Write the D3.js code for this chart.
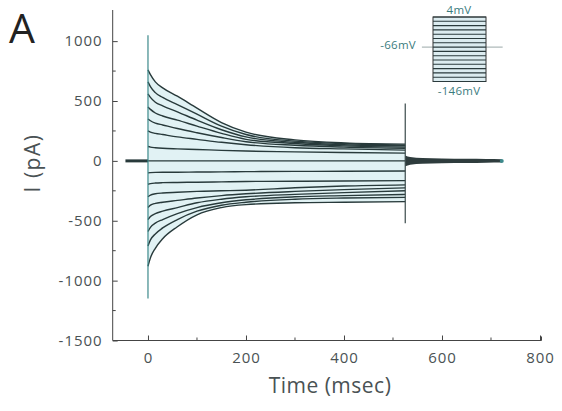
<!DOCTYPE html>
<html>
<head>
<meta charset="utf-8">
<script src="https://cdn.jsdelivr.net/npm/d3@7"></script>
<style>
  body { margin: 0; background: #fff; }
  svg { font-family: "Open Sans", sans-serif; }
</style>
</head>
<body>
<div id="chart"></div>
<script>
// Voltage steps (mV), holding at -66 mV
const stepVoltages = [4, -6, -16, -26, -36, -46, -56, -66, -76, -86, -96, -106, -116, -126, -136, -146];
const holdingVoltage = -66;

// Sample times (msec) during the pulse
const sampleTimes = [0, 5, 15, 30, 60, 100, 150, 200, 300, 400, 525];

// Current (pA) at each sample time, one row per voltage step
const currents = [
  [760, 720, 660, 610, 540, 440, 320, 240, 175, 150, 140],
  [660, 620, 570, 530, 470, 390, 290, 220, 165, 145, 130],
  [560, 530, 490, 460, 410, 340, 260, 200, 155, 135, 125],
  [450, 430, 400, 375, 340, 290, 230, 180, 145, 125, 115],
  [350, 335, 315, 300, 270, 235, 195, 160, 130, 115, 105],
  [250, 240, 230, 220, 200, 180, 155, 135, 110, 100, 90],
  [120, 115, 110, 105, 100, 95, 88, 82, 75, 70, 65],
  [0, 0, 0, 0, 0, 0, 0, 0, 0, 0, 0],
  [-100, -98, -96, -95, -95, -93, -92, -90, -88, -86, -85],
  [-195, -190, -185, -182, -180, -178, -175, -172, -170, -168, -165],
  [-300, -285, -275, -268, -262, -255, -250, -245, -225, -210, -200],
  [-390, -370, -355, -345, -330, -310, -290, -275, -255, -240, -225],
  [-490, -465, -440, -420, -390, -350, -320, -300, -280, -265, -250],
  [-590, -555, -520, -490, -440, -390, -350, -325, -300, -290, -280],
  [-710, -660, -610, -560, -490, -420, -370, -345, -320, -310, -305],
  [-880, -810, -730, -650, -550, -450, -390, -365, -350, -345, -340]
];

// Capacitive transients (time, peak, trough) in pA
const transientTimes = [0, 525];
const transientHigh = [1050, 480];
const transientLow = [-1150, -520];

// Holding current before the pulse and tail after it
const holdTimes = [-46, 0];
const tailTimes = [525, 535, 560, 600, 650, 690, 722];
const tailSpread = [45, 32, 24, 20, 18, 16, 14];

// Axis ticks
const xTicks = [0, 200, 400, 600, 800];
const xMinor = [100, 300, 500, 700];
const yTicks = [-1500, -1000, -500, 0, 500, 1000];
const yMinor = [-1250, -750, -250, 250, 750];

const W = 562, H = 411;
const svg = d3.select("#chart").append("svg")
  .attr("width", W).attr("height", H);

const x = d3.scaleLinear().domain([-72, 800]).range([112.7, 540]);
const y = d3.scaleLinear().domain([-1500, 1260]).range([340.5, 10]);

const traceColor = "#283a3b";
const teal = "#3d8a8c";

// Light shading between the traces
const topTrace = currents[0], bottomTrace = currents[currents.length - 1];
svg.append("path")
  .datum(sampleTimes.map((t, i) => ({ t, hi: topTrace[i], lo: bottomTrace[i] })))
  .attr("fill", "#e1f2f4")
  .attr("d", d3.area().curve(d3.curveMonotoneX)
    .x(d => x(d.t)).y0(d => y(d.lo)).y1(d => y(d.hi)));

// Holding baseline
svg.append("line")
  .attr("x1", x(holdTimes[0])).attr("x2", x(holdTimes[1]))
  .attr("y1", y(0)).attr("y2", y(0))
  .attr("stroke", traceColor).attr("stroke-width", 3);

// Tail after the pulse
svg.append("path")
  .datum(tailTimes.map((t, i) => ({ t, s: tailSpread[i] })))
  .attr("fill", "#2e3c3d")
  .attr("d", d3.area().curve(d3.curveMonotoneX)
    .x(d => x(d.t)).y0(d => y(-d.s)).y1(d => y(d.s)));
svg.append("circle")
  .attr("cx", x(tailTimes[tailTimes.length - 1])).attr("cy", y(0))
  .attr("r", 2).attr("fill", teal);

// Current traces
const line = d3.line().curve(d3.curveMonotoneX)
  .x((d, i) => x(sampleTimes[i])).y(d => y(d));
svg.append("g").selectAll("path")
  .data(currents)
  .join("path")
  .attr("fill", "none")
  .attr("stroke", traceColor)
  .attr("stroke-width", 1.4)
  .attr("d", d => line(d));

// Transients
svg.append("g").selectAll("line")
  .data(transientTimes)
  .join("line")
  .attr("x1", d => x(d)).attr("x2", d => x(d))
  .attr("y1", (d, i) => y(transientHigh[i]))
  .attr("y2", (d, i) => y(transientLow[i]))
  .attr("stroke", (d, i) => i === 0 ? teal : "#3a4a4b")
  .attr("stroke-width", 1.2);

// Axes
const axisColor = "#444";
const labelColor = "#4a5254";

const xAxis = svg.append("g")
  .attr("transform", `translate(0,${y(-1500)})`)
  .call(d3.axisBottom(x).tickValues(xTicks).tickSize(-5).tickPadding(12)
    .tickFormat(d => String(d)));
xAxis.append("g").selectAll("line")
  .data(xMinor).join("line")
  .attr("x1", d => x(d)).attr("x2", d => x(d))
  .attr("y1", 0).attr("y2", -3).attr("stroke", axisColor);

const yAxis = svg.append("g")
  .attr("transform", `translate(${x(-72)},0)`)
  .call(d3.axisLeft(y).tickValues(yTicks).tickSize(-5).tickPadding(10)
    .tickFormat(d => String(d)));
yAxis.append("g").selectAll("line")
  .data(yMinor).join("line")
  .attr("y1", d => y(d)).attr("y2", d => y(d))
  .attr("x1", 0).attr("x2", 3).attr("stroke", axisColor);

[xAxis, yAxis].forEach(a => {
  a.select(".domain").remove();
  a.selectAll(".tick line").attr("stroke", axisColor);
  a.selectAll(".tick text")
    .attr("fill", labelColor)
    .style("font-size", "15px")
    .style("letter-spacing", "1px")
    .style("font-family", "'Open Sans', sans-serif");
});
svg.append("path")
  .attr("d", `M${x(-72)},${y(1260)}V${y(-1500)}H${x(800) + 1.5}V${y(-1500) - 4}`)
  .attr("fill", "none").attr("stroke", axisColor);

// Axis titles
svg.append("text")
  .attr("x", 330).attr("y", 393)
  .attr("text-anchor", "middle")
  .attr("fill", labelColor)
  .style("font-size", "21px")
  .style("letter-spacing", "0.5px")
  .text("Time (msec)");

svg.append("text")
  .attr("transform", "translate(40,163) rotate(-90)")
  .attr("text-anchor", "middle")
  .attr("fill", labelColor)
  .style("font-size", "21px")
  .style("letter-spacing", "1.5px")
  .text("I (pA)");

// Panel letter
svg.append("text")
  .attr("x", 9).attr("y", 43)
  .attr("fill", "#222")
  .style("font-size", "41px")
  .text("A");

// Inset: voltage protocol
const vx = d3.scaleLinear().domain([0, 525]).range([433, 486]);
const vy = d3.scaleLinear().domain([-146, 4]).range([81.5, 17]);
const inset = svg.append("g");
inset.append("line")
  .attr("x1", vx(-110)).attr("x2", vx(690))
  .attr("y1", vy(holdingVoltage)).attr("y2", vy(holdingVoltage))
  .attr("stroke", "#9aa8a8").attr("stroke-width", 1);
inset.append("rect")
  .attr("x", vx(0)).attr("y", vy(4))
  .attr("width", vx(525) - vx(0)).attr("height", vy(-146) - vy(4))
  .attr("fill", "#dcecf0").attr("stroke", "#333").attr("stroke-width", 1);
inset.selectAll("line.step")
  .data(stepVoltages).join("line")
  .attr("class", "step")
  .attr("x1", vx(0)).attr("x2", vx(525))
  .attr("y1", d => vy(d)).attr("y2", d => vy(d))
  .attr("stroke", "#2a3a3c").attr("stroke-width", 1.1);

const insetText = (tx, ty, anchor, s) => inset.append("text")
  .attr("x", tx).attr("y", ty).attr("text-anchor", anchor)
  .attr("fill", "#3b7c7e").style("font-size", "11.5px")
  .style("letter-spacing", "0.3px").text(s);
insetText(459, 14, "middle", "4mV");
insetText(416, 49, "end", "-66mV");
insetText(459, 95, "middle", "-146mV");
</script>
</body>
</html>
